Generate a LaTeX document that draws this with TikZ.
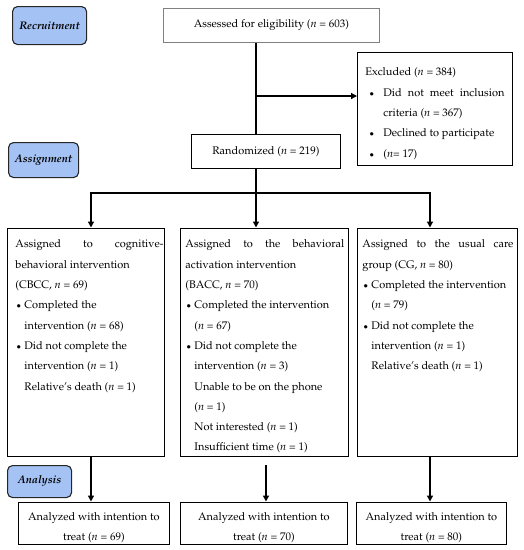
\documentclass[tikz,border=0pt]{standalone}
\usepackage[T1]{fontenc}
\usepackage{mathpazo}
\usetikzlibrary{arrows.meta}
\definecolor{labelblue}{RGB}{164,194,244}
\newcommand{\nn}{\textit{n}}
\newcommand{\dotb}{\raisebox{2.6pt}{\rule{0pt}{0pt}}\kern0pt$\scriptstyle\bullet$}
\newcommand{\bl}{\makebox[9pt][l]{\hspace{1pt}\dotb}}
\newcommand{\blx}{\makebox[18pt][l]{\hspace{4pt}\dotb}}
\newcommand{\ind}{\hspace*{9pt}}
\newcommand{\boxtext}[5]{\parbox[c][#2][t]{#1}{\parindent=0pt\leftskip=#3\rightskip=0pt plus 1fil\baselineskip=20.3pt\rule{0pt}{#4}#5}}
\newcommand{\ctext}[4]{\parbox[c][#2][t]{#1}{\centering\baselineskip=20pt\rule{0pt}{#3}#4}}
\tikzset{
  lab/.style={draw=black!85, line width=1.1pt, rounded corners=5pt, fill=labelblue,
    font=\fontsize{11}{13}\selectfont\bfseries\itshape, inner sep=0pt, anchor=north west},
  bx/.style={draw, line width=0.9pt, inner sep=0pt, anchor=north west,
    font=\fontsize{11}{20.3}\selectfont},
  conn/.style={line width=1.3pt},
  arr/.style={conn, -{Triangle[length=6pt,width=6pt]}}
}
\begin{document}
\begin{tikzpicture}[x=1pt,y=-1pt]
\useasboundingbox (0,0) rectangle (524,550);
% stage labels
\node[lab, minimum width=74pt, minimum height=38pt] (rec) at (12,6) {Recruitment};
\node[lab, minimum width=70pt, minimum height=35pt] (asg) at (8,142) {Assignment};
\node[lab, minimum width=64pt, minimum height=32pt] (ana) at (7,465) {Analysis};
% top boxes
\node[bx, draw=black!50, line width=0.8pt, minimum width=216pt, minimum height=34pt] (assess) at (163,8) {Assessed for eligibility (\nn{} = 603)};
\node[bx, minimum width=149pt, minimum height=34pt] (rand) at (191,134) {Randomized (\nn{} = 219)};
\node[bx] (excl) at (357,52) {\boxtext{155pt}{113pt}{8pt}{23.5pt}{%
Excluded (\nn{} = 384)\\
\makebox[139pt][s]{\blx Did not meet inclusion}\\
\hspace*{18pt}criteria (\nn{} = 367)\\
\blx Declined to participate\\
\blx (\nn{}= 17)}};
% group boxes
\node[bx] (cbcc) at (7,227.5) {\boxtext{157pt}{228.5pt}{8pt}{20pt}{%
\makebox[148pt][s]{Assigned to cognitive-}\\
behavioral intervention\\
(CBCC, \nn{} = 69)\\
\bl Completed the\\
\ind intervention (\nn{} = 68)\\
\bl Did not complete the\\
\ind intervention (\nn{} = 1)\\
\ind Relative's death (\nn{} = 1)}};
\node[bx] (bacc) at (180,227.5) {\boxtext{168pt}{228.5pt}{5pt}{20pt}{%
\makebox[159pt][s]{Assigned to the behavioral}\\
activation intervention\\
(BACC, \nn{} = 70)\\
\bl Completed the intervention\\
\ind(\nn{} = 67)\\
\bl Did not complete the\\
\ind intervention (\nn{} = 3)\\
\ind Unable to be on the phone\\
\ind(\nn{} = 1)\\
\ind Not interested (\nn{} = 1)\\
\ind Insufficient time (\nn{} = 1)}};
\node[bx] (cg) at (357,227.5) {\boxtext{160pt}{228.5pt}{5pt}{20pt}{%
\makebox[151pt][s]{Assigned to the usual care}\\
group (CG, \nn{} = 80)\\
\bl Completed the intervention\\
\ind(\nn{} = 79)\\
\bl Did not complete the\\
\ind intervention (\nn{} = 1)\\
\ind Relative's death (\nn{} = 1)}};
% analysis boxes
\node[bx] (an1) at (18,501.5) {\ctext{151pt}{42pt}{19pt}{Analyzed with intention to\\ treat (\nn{} = 69)}};
\node[bx] (an2) at (180,501.5) {\ctext{167pt}{42pt}{19pt}{Analyzed with intention to\\ treat (\nn{} = 70)}};
\node[bx] (an3) at (356,501.5) {\ctext{150pt}{42pt}{19pt}{Analyzed with intention to\\ treat (\nn{} = 80)}};
% helper coordinates
\coordinate (trunk) at (256,0);
\coordinate (split) at (256,193);
\coordinate (exy) at (0,96);
\coordinate (xl) at (91,0);
\coordinate (xr) at (430,0);
\coordinate (midstart) at (266,465);
% connectors
\draw[conn] (assess.south -| trunk) -- (rand.north -| trunk);
\draw[arr] (trunk |- exy) -- (excl.west |- exy);
\draw[conn] (rand.south -| trunk) -- (split);
\draw[conn, line cap=rect] (split -| xl) -- (split -| xr);
\draw[arr] (split -| xl) -- (cbcc.north -| xl);
\draw[arr] (split) -- (bacc.north -| trunk);
\draw[arr] (split -| xr) -- (cg.north -| xr);
\draw[arr] (cbcc.south -| xl) -- (an1.north -| xl);
\draw[arr] (midstart) -- (an2.north -| midstart);
\draw[arr] (cg.south -| xr) -- (an3.north -| xr);
\end{tikzpicture}
\end{document}
